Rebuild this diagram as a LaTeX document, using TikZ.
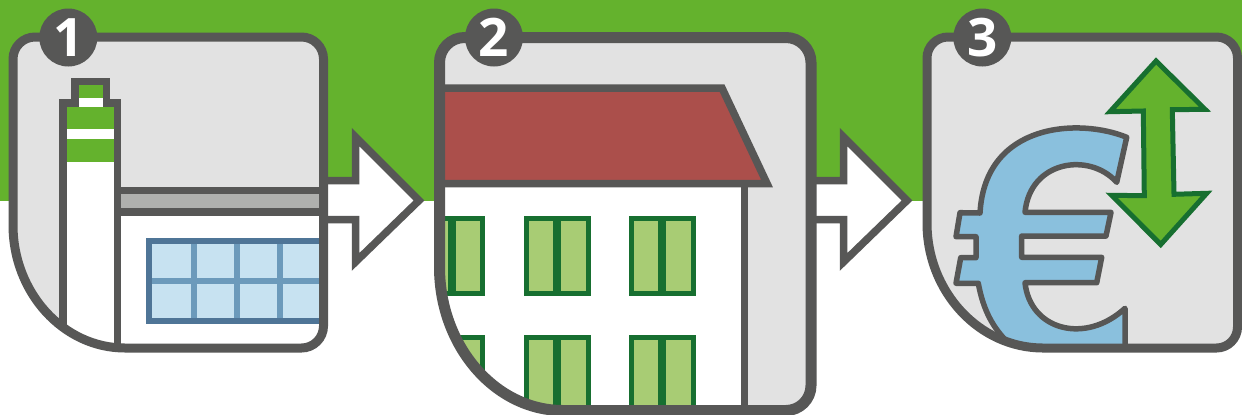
\documentclass[tikz,border=0pt]{standalone}
\usepackage{fontspec}
\setsansfont{Open Sans}
\definecolor{leafgreen}{HTML}{64B22D}
\definecolor{inkgray}{HTML}{575756}
\definecolor{panelgray}{HTML}{E2E2E2}
\definecolor{roofgray}{HTML}{AFB0AE}
\definecolor{glassblue}{HTML}{C7E2F1}
\definecolor{barblue}{HTML}{6C9ABB}
\definecolor{frameblue}{HTML}{4F7597}
\definecolor{roofred}{HTML}{AB4F4B}
\definecolor{shutterdark}{HTML}{176F30}
\definecolor{shutterlight}{HTML}{A8CC74}
\definecolor{eurblue}{HTML}{8AC0DD}
\newcommand\panelpath[7]{(#1,#5) -- (#1,#2+#7) .. controls (#1,#2+0.45*#7) and (#1+0.45*#7,#2) .. (#1+#7,#2)
  -- (#3-#7,#2) .. controls (#3-0.45*#7,#2) and (#3,#2+0.45*#7) .. (#3,#2+#7)
  -- (#3,#4-#7) .. controls (#3,#4-0.45*#7) and (#3-0.45*#7,#4) .. (#3-#7,#4)
  -- (#6,#4) .. controls (#6-0.55*#6+0.55*#1,#4) and (#1,#4-0.45*#4+0.45*#5) .. (#1,#5) -- cycle}
\newcommand\panelone{\panelpath{13}{37}{323.5}{348}{225}{125}{22}}
\newcommand\paneltwo{\panelpath{439.5}{37.5}{811}{410.5}{267}{563}{25}}
\newcommand\panelthree{\panelpath{927}{37}{1237.5}{348}{223}{1043}{21}}
\newcommand\shutter[2]{
  \draw[shutter] (#1,#2) rectangle (#1+61.5,#2+75.5);
  \draw[shutterdark, line width=4pt] (#1+30.75,#2) -- (#1+30.75,#2+75.5);
}
\begin{document}
\begin{tikzpicture}[x=0.5pt, y=-0.5pt, line join=miter,
    thinline/.style={draw=inkgray, line width=3.75pt},
    stepline/.style={draw=inkgray, fill=white, line width=3.75pt},
    shutter/.style={draw=shutterdark, fill=shutterlight, line width=2.5pt},
    badge/.style={circle, fill=inkgray, minimum size=29pt, inner sep=0pt, text=white,
      font=\sffamily\bfseries\fontsize{26.5}{26.5}\selectfont}]
  \useasboundingbox (0,0) rectangle (1242,414);
  \fill[white] (0,0) rectangle (1242,414);
  \fill[leafgreen] (0,0) rectangle (1242,201);

  \draw[stepline] (300,180.5) -- (355.5,180.5) -- (355.5,137) -- (419,200.5) -- (355.5,262) -- (355.5,219.5) -- (300,219.5) -- cycle;
  \draw[stepline] (790,180.5) -- (843.5,180.5) -- (843.5,137) -- (907,200.5) -- (843.5,262) -- (843.5,219.5) -- (790,219.5) -- cycle;

  \fill[panelgray] \panelone;
  \begin{scope}
    \clip \panelone;
    \draw[stepline] (63,360) -- (63,103) -- (75,103) -- (75,81.3) -- (106.5,81.3) -- (106.5,103) -- (117.5,103) -- (117.5,360) -- cycle;
    \fill[leafgreen] (78.7,85) rectangle (102.8,98);
    \fill[leafgreen] (66.8,106.7) rectangle (113.8,129);
    \fill[leafgreen] (66.8,139) rectangle (113.8,162);
    \draw[stepline] (117.5,212) rectangle (340,360);
    \draw[thinline, fill=roofgray] (117.5,190.3) rectangle (340,212);
    \fill[glassblue] (148.7,241.3) rectangle (340,321);
    \foreach \barx in {194,237,280}
      \draw[barblue, line width=3pt] (\barx,241.3) -- (\barx,321);
    \draw[barblue, line width=3pt] (148.7,280.7) -- (340,280.7);
    \draw[frameblue, line width=3pt] (148.7,241.3) rectangle (340,321);
  \end{scope}
  \draw[inkgray, line width=4.5pt] \panelone;

  \fill[panelgray] \paneltwo;
  \begin{scope}
    \clip \paneltwo;
    \draw[stepline] (420,183.5) rectangle (744.5,430);
    \foreach \winx in {421,526.5,631.5} {
      \shutter{\winx}{218.2}
      \shutter{\winx}{337.8}
    }
    \draw[thinline, fill=roofred] (420,88) -- (722,88) -- (767,183.5) -- (420,183.5) -- cycle;
  \end{scope}
  \draw[inkgray, line width=5.5pt] \paneltwo;

  \fill[panelgray] \panelthree;
  \begin{scope}
    \clip \panelthree;
    \draw[draw=inkgray, fill=eurblue, line width=2.75pt, line join=round]
      (1126.7,137.3) .. controls (1080,118) and (985,122) .. (980,213)
      -- (960,212.7) -- (956,236.7) -- (976,236.7) -- (976,257.7) -- (960.7,257.7) -- (956,283.3) -- (978.3,283.3)
      .. controls (985,320) and (1000,335) .. (1015,350) -- (1030,370) -- (1125,370) -- (1125,308.3)
      .. controls (1085,345) and (1030,330) .. (1025,282.7)
      -- (1096.7,282.7) -- (1101.7,257.3) -- (1021.7,257.3) -- (1021.7,236) -- (1106,236) -- (1111,212.3) -- (1025,212.3)
      .. controls (1030,160) and (1090,152) .. (1116.7,182.3) -- cycle;
  \end{scope}
  \draw[draw=shutterdark, fill=leafgreen, line width=2.5pt]
    (1156,61) -- (1205,109.3) -- (1172.3,109.7) -- (1174,194.3) -- (1206.7,193.3) -- (1160.7,244.5)
    -- (1111.7,195.3) -- (1144.3,195.7) -- (1143.3,111) -- (1110,111.7) -- cycle;
  \draw[inkgray, line width=4.5pt] \panelthree;

  \node[badge] (badgeone) at (68.3,37.5) {1};
  \node[badge] (badgetwo) at (494,37.5) {2};
  \node[badge] (badgethree) at (982.3,37.5) {3};
\end{tikzpicture}
\end{document}
